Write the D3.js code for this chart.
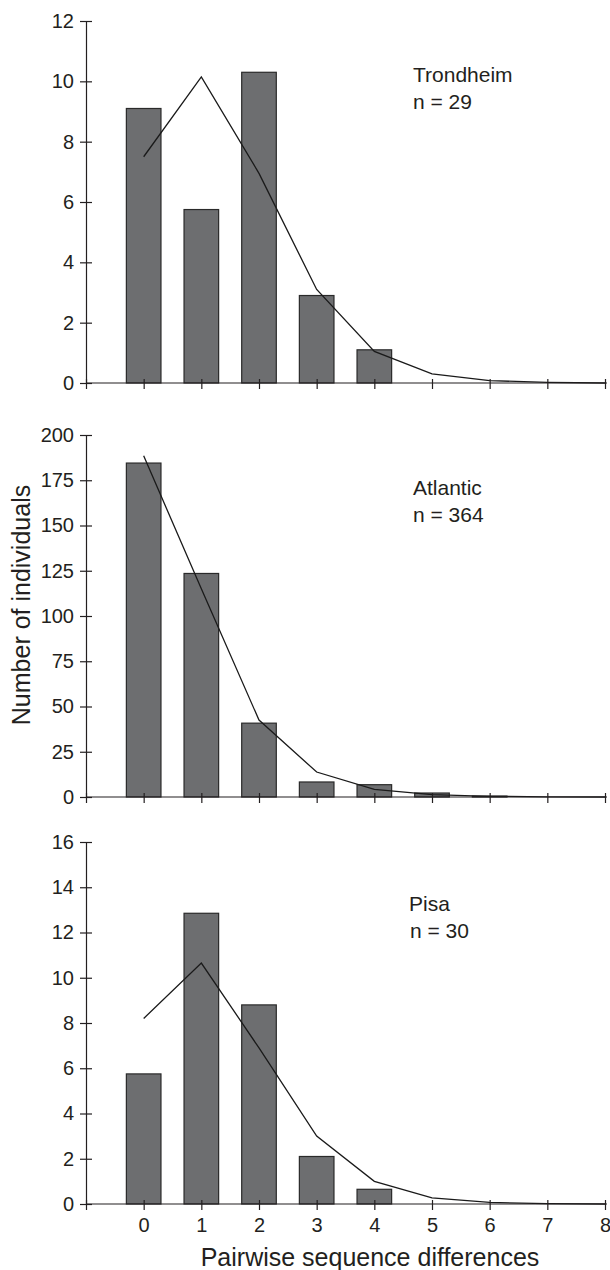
<!DOCTYPE html>
<html>
<head>
<meta charset="utf-8">
<script src="https://cdn.jsdelivr.net/npm/d3@7"></script>
<style>
  body { margin: 0; background: #fff; }
  svg text { font-family: "Liberation Sans", Arial, sans-serif; fill: #231f20; }
</style>
</head>
<body>
<div id="canvas"></div>
<script>
//pairwise difference classes on the x axis
var diffs = [0, 1, 2, 3, 4, 5, 6, 7, 8];
var xTicks = [-1, 0, 1, 2, 3, 4, 5, 6, 7, 8];

//observed counts (bars) and expected curve (line) for each sample
var trondheimBars = [9.1, 5.75, 10.3, 2.9, 1.1];
var trondheimLine = [7.5, 10.15, 6.95, 3.1, 1.05, 0.3, 0.08, 0.02, 0];
var atlanticBars = [184.5, 123.5, 40.8, 8.3, 6.8, 2.2, 0.5];
var atlanticLine = [188.5, 115, 42.5, 13.8, 4.2, 1.3, 0.4, 0.1, 0];
var pisaBars = [5.75, 12.85, 8.8, 2.1, 0.65];
var pisaLine = [8.2, 10.65, 6.9, 3.0, 1.0, 0.27, 0.07, 0.02, 0];

//y tick labels of the three panels
var trondheimTicks = [0, 2, 4, 6, 8, 10, 12];
var atlanticTicks = [0, 25, 50, 75, 100, 125, 150, 175, 200];
var pisaTicks = [0, 2, 4, 6, 8, 10, 12, 14, 16];

var sampleNames = ['Trondheim', 'Atlantic', 'Pisa'];
var sampleSizes = [29, 364, 30];

var width = 610, height = 1270;
var left = 86, right = 605;

var svg = d3.select('#canvas')
            .append('svg')
            .attr('width', width)
            .attr('height', height);

//shared x scale, the y axis sits at -1
var xScale = d3.scaleLinear().domain([-1, 8]).range([left, right]);
var step = xScale(1) - xScale(0);
var barWidth = step * 0.6;

var panels = [
  {bars: trondheimBars, line: trondheimLine, ticks: trondheimTicks, top: 21, bottom: 383, labelDy: 61},
  {bars: atlanticBars, line: atlanticLine, ticks: atlanticTicks, top: 435, bottom: 797, labelDy: 60},
  {bars: pisaBars, line: pisaLine, ticks: pisaTicks, top: 842, bottom: 1204, labelDy: 69}
];

panels.forEach(function(p, k){
  var max = p.ticks[p.ticks.length - 1];
  var yScale = d3.scaleLinear().domain([0, max]).range([p.bottom, p.top]);
  var g = svg.append('g');

  //bars
  g.selectAll('rect')
   .data(p.bars)
   .enter()
   .append('rect')
   .attr('x', function(d, i){ return xScale(diffs[i]) - barWidth / 2 })
   .attr('y', function(d){ return yScale(d) })
   .attr('width', barWidth)
   .attr('height', function(d){ return p.bottom - yScale(d) })
   .attr('fill', '#6d6e70')
   .attr('stroke', '#2a2a2a')
   .attr('stroke-width', 1.2);

  //expected distribution
  var genLine = d3.line()
                  .x(function(d, i){ return xScale(diffs[i]) })
                  .y(function(d){ return yScale(d) });
  g.append('path')
   .attr('d', genLine(p.line))
   .attr('fill', 'none')
   .attr('stroke', '#1a1a1a')
   .attr('stroke-width', 1.3);

  //y axis
  var yAxis = g.append('g')
               .attr('transform', 'translate(' + left + ',0)')
               .call(d3.axisLeft(yScale).tickValues(p.ticks).tickSizeInner(6).tickSizeOuter(0).tickPadding(6));
  yAxis.selectAll('.tick line').attr('x1', 6);
  yAxis.selectAll('text').style('font-size', '20px');

  //x axis, labels only on the last panel
  var xAxis = g.append('g')
               .attr('transform', 'translate(0,' + p.bottom + ')')
               .call(d3.axisBottom(xScale).tickValues(xTicks).tickSizeInner(6).tickSizeOuter(0).tickPadding(8)
                       .tickFormat(function(d){ return (k == 2 && d >= 0) ? d : '' }));
  xAxis.select('.domain').attr('d', 'M' + left + ',0H' + (right + 2));
  xAxis.selectAll('.tick line').attr('y1', -4);
  xAxis.selectAll('text').style('font-size', '20px');

  g.selectAll('.domain, .tick line').attr('stroke', '#231f20').attr('stroke-width', 1.2);

  //sample name and size
  var label = g.append('text')
               .attr('x', k == 2 ? 409 : 413)
               .attr('y', p.top + p.labelDy)
               .style('font-size', '21px');
  label.append('tspan').text(sampleNames[k]);
  label.append('tspan')
       .attr('x', k == 2 ? 410 : 413)
       .attr('dy', 27)
       .text('n = ' + sampleSizes[k]);
});

//axis titles
svg.append('text')
   .attr('x', 370)
   .attr('y', 1266)
   .attr('text-anchor', 'middle')
   .style('font-size', '25px')
   .text('Pairwise sequence differences');

svg.append('text')
   .attr('transform', 'rotate(-90)')
   .attr('x', -605)
   .attr('y', 29.5)
   .attr('text-anchor', 'middle')
   .style('font-size', '25px')
   .text('Number of individuals');
</script>
</body>
</html>
